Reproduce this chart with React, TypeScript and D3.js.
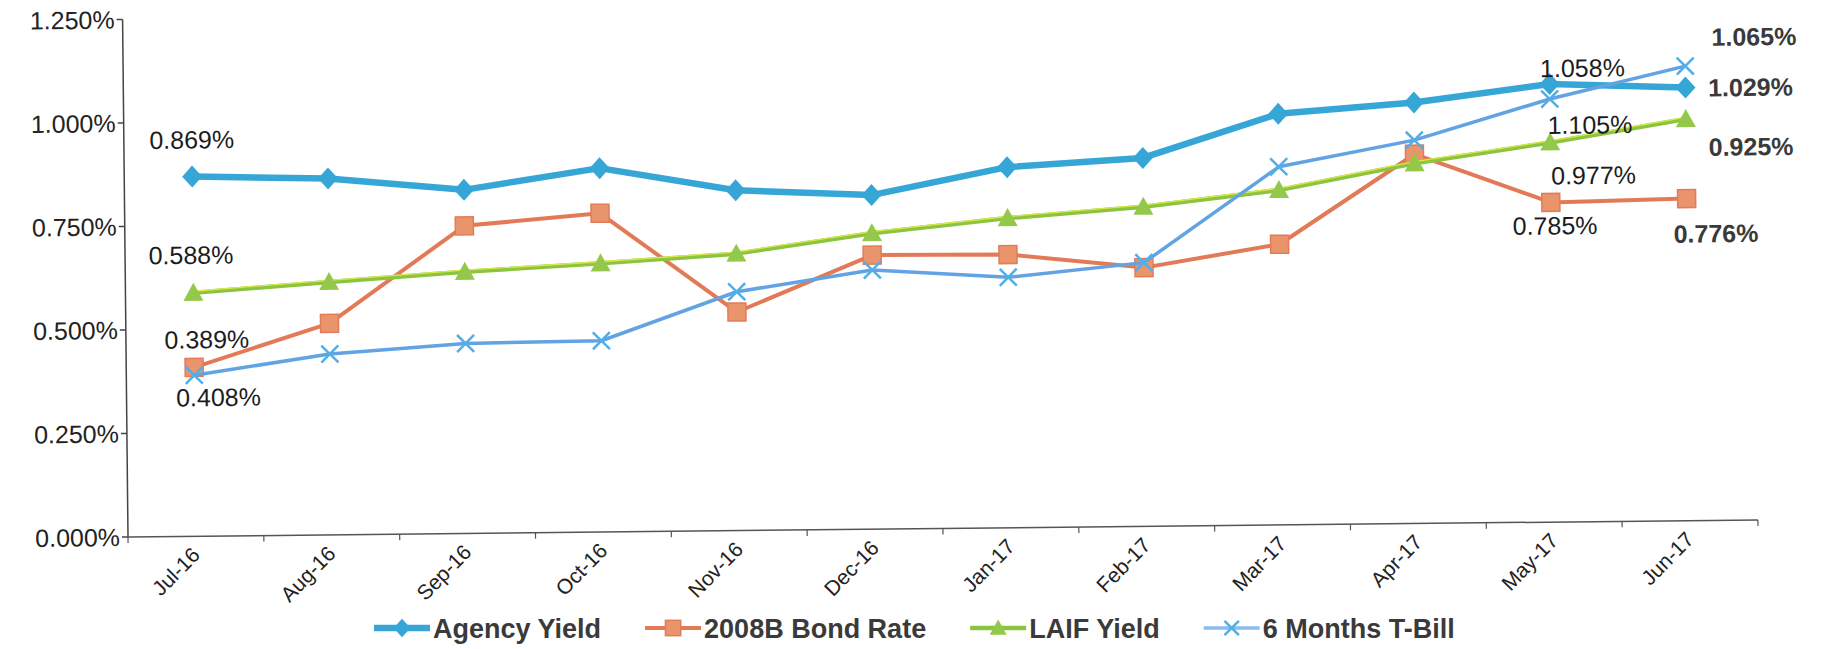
import React, { useEffect, useRef } from 'react';
import * as d3 from 'd3';

const months = ['Jul-16', 'Aug-16', 'Sep-16', 'Oct-16', 'Nov-16', 'Dec-16', 'Jan-17', 'Feb-17', 'Mar-17', 'Apr-17', 'May-17', 'Jun-17'];

// yields in percent
const agencyYield = [0.869, 0.861, 0.830, 0.879, 0.822, 0.807, 0.871, 0.890, 0.993, 1.017, 1.058, 1.046];
const bondRate2008B = [0.408, 0.511, 0.743, 0.770, 0.528, 0.662, 0.660, 0.625, 0.678, 0.892, 0.772, 0.778];
const laifYield = [0.588, 0.611, 0.632, 0.649, 0.669, 0.715, 0.748, 0.772, 0.809, 0.870, 0.917, 0.970];
const tBill6Months = [0.389, 0.437, 0.459, 0.462, 0.577, 0.626, 0.605, 0.637, 0.865, 0.926, 1.022, 1.098];

const seriesNames = ['Agency Yield', '2008B Bond Rate', 'LAIF Yield', '6 Months T-Bill'];
const yTicks = [0, 0.25, 0.5, 0.75, 1.0, 1.25];

// labels printed on the chart (text as it appears in the source)
const labelTexts = ['0.869%', '0.588%', '0.389%', '0.408%', '1.058%', '1.105%', '0.977%', '0.785%', '1.065%', '1.029%', '0.925%', '0.776%'];

// layout for those labels: anchored to a point, offset in px
const labelLayout = [
  { s: 0, m: 0, dx: 0, dy: -28, bold: false },
  { s: 2, m: 0, dx: -2, dy: -29, bold: false },
  { s: 1, m: 0, dx: 13, dy: -19, bold: false },
  { s: 3, m: 0, dx: 24, dy: 31, bold: false },
  { s: 0, m: 10, dx: 33, dy: -7, bold: false },
  { s: 3, m: 10, dx: 40, dy: 35, bold: false },
  { s: 2, m: 10, dx: 43, dy: 42, bold: false },
  { s: 1, m: 10, dx: 4, dy: 32, bold: false },
  { s: 3, m: 11, dx: 69, dy: -20, bold: true },
  { s: 0, m: 11, dx: 65, dy: 9, bold: true },
  { s: 2, m: 11, dx: 65, dy: 37, bold: true },
  { s: 1, m: 11, dx: 29, dy: 44, bold: true },
];

const styles = [
  { color: '#36A6D7', width: 6.5, marker: 'diamond' },
  { color: '#E27A57', width: 4, marker: 'square' },
  { color: '#8BC53F', width: 4.5, marker: 'triangle' },
  { color: '#62A3E3', width: 3.5, marker: 'x' },
];

const W = 1826;
const H = 649;
const left = 128;
const right = 1758;
const top = 19.5;
const bottom = 537;
const FONT = 'Liberation Sans, Arial, sans-serif';

function drawMarker(g: d3.Selection<SVGGElement, unknown, null, undefined>, kind: string, scale = 1) {
  if (kind === 'diamond') {
    g.append('path').attr('d', `M0,${-11 * scale}L${10 * scale},0L0,${11 * scale}L${-10 * scale},0Z`).attr('fill', '#36A6D7');
  } else if (kind === 'square') {
    const s = 18 * scale;
    g.append('rect').attr('x', -s / 2).attr('y', -s / 2).attr('width', s).attr('height', s)
      .attr('fill', '#EA946C').attr('stroke', '#E27C58').attr('stroke-width', 1.5);
  } else if (kind === 'triangle') {
    g.append('path').attr('d', `M0,${-10 * scale}L${10 * scale},${8 * scale}L${-10 * scale},${8 * scale}Z`)
      .attr('fill', '#93C84A');
  } else {
    const r = 8.5 * scale;
    g.append('path').attr('d', `M${-r},${-r}L${r},${r}M${-r},${r}L${r},${-r}`)
      .attr('stroke', '#52AEE6').attr('stroke-width', 2.5).attr('fill', 'none');
  }
}

const App: React.FC = () => {
  const svgRef = useRef<SVGSVGElement>(null);

  useEffect(() => {
    if (!svgRef.current) return;
    const svg = d3.select(svgRef.current);
    svg.selectAll('*').remove();

    const series = [agencyYield, bondRate2008B, laifYield, tBill6Months];

    const x = d3.scaleBand<string>().domain(months).range([left, right]).padding(0);
    const cx = (m: string) => x(m)! + x.bandwidth() / 2;
    const y = d3.scaleLinear().domain([0, 1.25]).range([bottom, top]);

    svg.append('rect').attr('width', W).attr('height', H).attr('fill', '#fff');

    // the source is a slightly skewed scan
    const g = svg.append('g').attr('transform', `rotate(-0.6, ${left}, ${bottom})`);

    // y axis
    g.append('line').attr('x1', left).attr('x2', left).attr('y1', top).attr('y2', bottom)
      .attr('stroke', '#444').attr('stroke-width', 1.5);
    yTicks.forEach(t => {
      g.append('line').attr('x1', left - 6).attr('x2', left).attr('y1', y(t)).attr('y2', y(t))
        .attr('stroke', '#444').attr('stroke-width', 1.5);
      g.append('text').attr('x', left - 8).attr('y', y(t)).attr('dy', '0.36em')
        .attr('text-anchor', 'end').attr('font-family', FONT).attr('font-size', 25).attr('fill', '#222')
        .text(d3.format('.3f')(t) + '%');
    });

    // x axis
    g.append('line').attr('x1', left).attr('x2', right).attr('y1', bottom).attr('y2', bottom)
      .attr('stroke', '#555').attr('stroke-width', 1.5);
    months.forEach((m, i) => {
      g.append('line').attr('x1', x(m)!).attr('x2', x(m)!).attr('y1', bottom).attr('y2', bottom + 6)
        .attr('stroke', '#555').attr('stroke-width', 1.2);
      if (i === months.length - 1) {
        g.append('line').attr('x1', right).attr('x2', right).attr('y1', bottom).attr('y2', bottom + 6)
          .attr('stroke', '#555').attr('stroke-width', 1.2);
      }
      g.append('text')
        .attr('transform', `translate(${cx(m) + 5},${bottom + 20}) rotate(-45)`)
        .attr('text-anchor', 'end').attr('font-family', FONT).attr('font-size', 21).attr('fill', '#222')
        .text(m);
    });

    // lines
    const line = d3.line<number>().x((_, i) => cx(months[i])).y(d => y(d));
    series.forEach((vals, s) => {
      const st = styles[s];
      g.append('path').attr('d', line(vals)).attr('fill', 'none')
        .attr('stroke', st.color).attr('stroke-width', st.width).attr('stroke-linejoin', 'round');
      if (st.marker === 'triangle') {
        g.append('path').attr('d', line(vals)).attr('fill', 'none')
          .attr('transform', 'translate(0,-1.6)')
          .attr('stroke', '#DCE64A').attr('stroke-width', 1.3);
      }
      vals.forEach((v, i) => {
        const mg = g.append('g').attr('transform', `translate(${cx(months[i])},${y(v)})`);
        drawMarker(mg, st.marker);
      });
    });

    // data labels
    labelLayout.forEach((l, k) => {
      const vals = series[l.s];
      g.append('text')
        .attr('x', cx(months[l.m]) + l.dx)
        .attr('y', y(vals[l.m]) + l.dy)
        .attr('text-anchor', 'middle').attr('font-family', FONT).attr('font-size', 25)
        .attr('font-weight', l.bold ? 'bold' : 'normal')
        .attr('fill', l.bold ? '#3a3a3a' : '#1c1c1c')
        .text(labelTexts[k]);
    });

    // legend
    const legend = svg.append('g').attr('transform', 'translate(374, 628)');
    let lx = 0;
    seriesNames.forEach((name, s) => {
      const st = styles[s];
      const item = legend.append('g').attr('transform', `translate(${lx},0)`);
      item.append('line').attr('x1', 0).attr('x2', 56).attr('y1', 0).attr('y2', 0)
        .attr('stroke', s === 3 ? '#8CBCEE' : st.color).attr('stroke-width', st.width);
      drawMarker(item.append('g').attr('transform', 'translate(28,0)'), st.marker, 0.85);
      const t = item.append('text').attr('x', 59).attr('y', 0).attr('dy', '0.36em')
        .attr('font-family', FONT).attr('font-size', 27).attr('font-weight', 'bold').attr('fill', '#3a3a3a')
        .text(name);
      const w = (t.node() as SVGTextElement).getComputedTextLength();
      lx += 59 + w + 44;
    });
  }, []);

  return (
    <svg ref={svgRef} width={W} height={H}
      style={{ position: 'absolute', left: 0, top: 0, display: 'block' }} />
  );
};

export default App;
